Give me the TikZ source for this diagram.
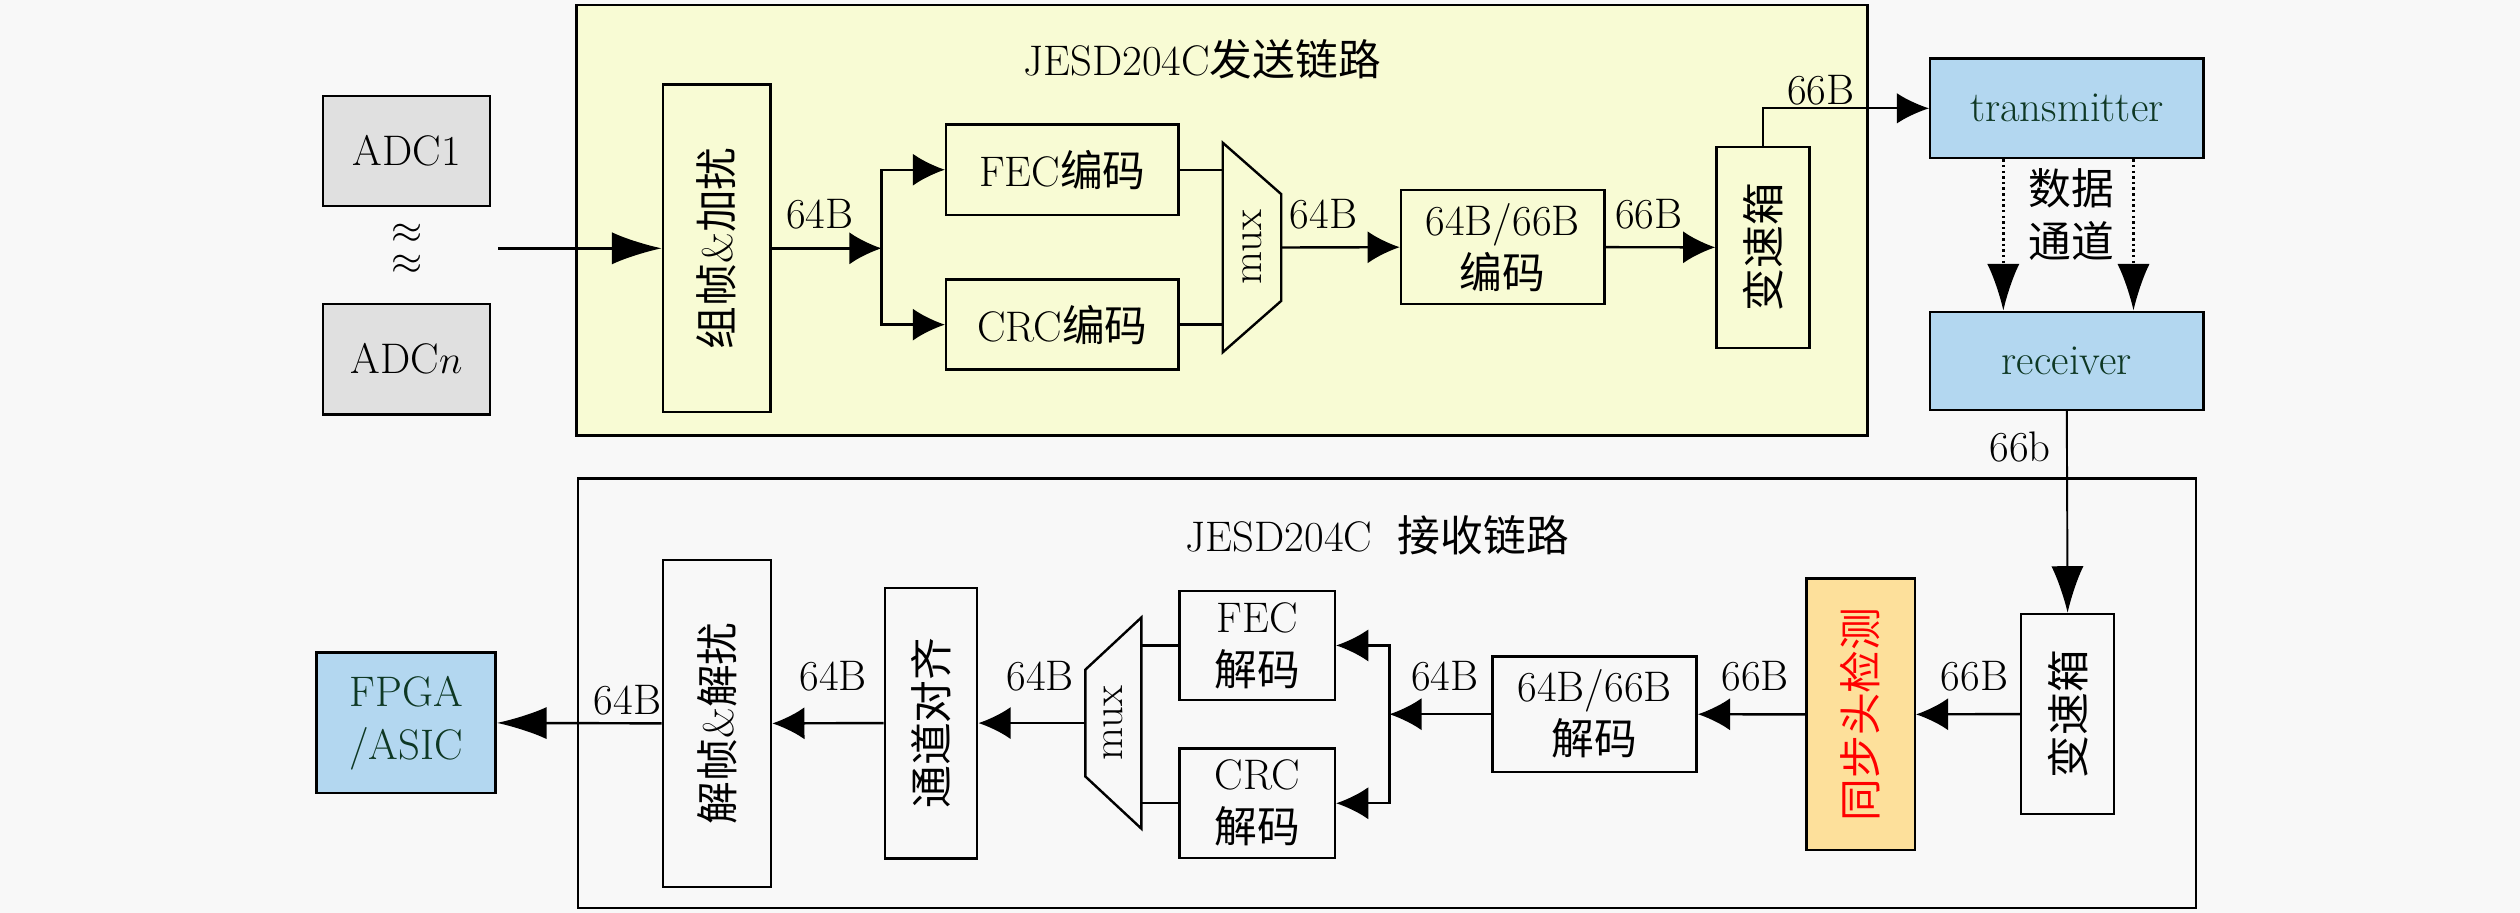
\documentclass[tikz,border=0pt]{standalone}
\usepackage{fontspec}
\usepackage{graphicx}
\newfontfamily\zh{Noto Sans CJK SC}
\usetikzlibrary{arrows.meta,calc}
\definecolor{bgc}{RGB}{248,248,248}
\definecolor{txbox}{RGB}{248,251,212}
\definecolor{adcgray}{RGB}{224,224,224}
\definecolor{lblue}{RGB}{179,215,240}
\definecolor{lorange}{RGB}{253,224,155}
\definecolor{dgreen}{RGB}{14,56,36}
\tikzset{
  box/.style={draw, line width=1.5pt, inner sep=0pt, align=center},
  bluebox/.style={box, fill=lblue, text=dgreen},
  conn/.style={line width=1.5pt},
  arr/.style={conn, -{Latex[length=20pt,width=20pt]}},
  bigarr/.style={conn, -{Latex[length=31pt,width=20pt]}},
  longarr/.style={line width=1.2pt, -{Latex[length=29pt,width=20pt]}},
  thinarr/.style={line width=1.2pt, -{Latex[length=20pt,width=19pt]}},
  dotarr/.style={line width=1.5pt, dash pattern=on 1.5pt off 2pt, -{Latex[length=29pt,width=20pt]}},
  lbl/.style={inner sep=0pt},
  muxshape/.style={inner sep=0pt}
}
\begin{document}
\begin{tikzpicture}[x=1pt,y=-1pt,font={\fontsize{26.6}{33}\selectfont}]
\useasboundingbox (0,0) rectangle (1568,568);
\fill[bgc] (0,0) rectangle (1568,568);

% outer chain boxes
\draw[line width=1.5pt, fill=txbox] (358.6,3) rectangle (1162,271);
\draw[line width=1.5pt, fill=bgc] (359.7,297.6) rectangle (1366.5,565);
\node[lbl] (ttitle) at (748,37) {JESD204C{\zh 发送链路}};
\node[lbl] (rtitle) at (857,333) {JESD204C\hspace{0.6em}{\zh 接收链路}};

% ADC
\node[box, fill=adcgray, minimum width=104pt, minimum height=68.5pt] (adc1) at (253,94) {ADC1};
\node[box, fill=adcgray, minimum width=104pt, minimum height=69pt] (adcn) at (253,223.5) {ADC$n$};
\node[lbl, align=center, font={\fontsize{26.6}{19}\selectfont}] (ap) at (253,155) {$\approx$\\$\approx$};
\coordinate (in) at (310,154.5);

% transmit chain
\node[box, minimum width=67pt, minimum height=204pt] (frame) at (446,154.5) {\rotatebox{90}{{\zh 组帧}\&{\zh 加扰}}};
\coordinate (br1) at (548.5,154.5);
\node[box, minimum width=144.6pt, minimum height=56.4pt] (fec) at (661,105.6) {FEC{\zh 编码}};
\node[box, minimum width=144.6pt, minimum height=56pt] (crc) at (661,202) {CRC{\zh 编码}};
\node[muxshape, minimum width=36pt, minimum height=130pt] (mux1) at (779,154) {\rotatebox{90}{mux}};
\draw[line width=1.5pt] (mux1.north west) -- ($(mux1.north east)+(0,32)$) -- ($(mux1.south east)+(0,-32)$) -- (mux1.south west) -- cycle;
\node[box, minimum width=126.6pt, minimum height=71pt] (enc) at (935,153.8) {64B/66B\\{\zh 编码}};
\node[box, minimum width=58pt, minimum height=125pt] (gear1) at (1097,153.9) {\rotatebox{90}{\zh 变速箱}};

\draw[bigarr] (in) -- (frame.west);
\draw[arr] (frame.east) -- (br1);
\draw[arr] (br1) |- (fec.west);
\draw[arr] (br1) |- (crc.west);
\draw[conn] (fec.east) -- (mux1.west |- fec.east);
\draw[conn] (crc.east) -- (mux1.west |- crc.east);
\draw[arr] (mux1.east) -- (enc.west);
\draw[arr] (enc.east) -- (gear1.west);

\node[lbl] (l1) at (510,133) {64B};
\node[lbl] (l2) at (823.5,133) {64B};
\node[lbl] (l3) at (1026,133) {66B};

% link
\node[bluebox, minimum width=170pt, minimum height=62pt] (tx) at (1286,67.4) {transmitter};
\node[bluebox, minimum width=170pt, minimum height=61pt] (rx) at (1286,224.5) {receiver};
\draw[thinarr] (gear1.north) |- (tx.west);
\node[lbl] (l4) at (1133,56) {66B};
\draw[dotarr] ([xshift=-39.5pt]tx.south) -- ([xshift=-39.5pt]rx.north);
\draw[dotarr] ([xshift=41.5pt]tx.south) -- ([xshift=41.5pt]rx.north);
\node[lbl, align=center] (chan) at (1289,133.7) {\zh 数据\\\zh 通道};

% receive chain
\node[box, minimum width=58pt, minimum height=124.5pt] (gear2) at (1286.5,444.3) {\rotatebox{90}{\zh 变速箱}};
\draw[longarr] (rx.south) -- (gear2.north);
\node[lbl] (l5) at (1257,278) {66b};
\node[box, fill=lorange, text=red, minimum width=67.4pt, minimum height=169pt] (sync) at (1157.7,444.5) {\rotatebox{90}{\zh 同步头检测}};
\node[box, minimum width=127pt, minimum height=71.6pt] (dec) at (992.2,444.4) {64B/66B\\{\zh 解码}};
\coordinate (br2) at (864.5,444.4);
\node[box, minimum width=96.8pt, minimum height=67.6pt] (fecd) at (782.2,401.6) {FEC\\{\zh 解码}};
\node[box, minimum width=96.8pt, minimum height=68.3pt] (crcd) at (782.2,499.8) {CRC\\{\zh 解码}};
\node[muxshape, minimum width=34.5pt, minimum height=131pt] (mux2) at (692.75,449.9) {\rotatebox{90}{mux}};
\draw[line width=1.5pt] (mux2.north east) -- (mux2.south east) -- ($(mux2.south west)+(0,-32.5)$) -- ($(mux2.north west)+(0,32.5)$) -- cycle;
\node[box, minimum width=57.5pt, minimum height=168.3pt] (align) at (579.3,449.9) {\rotatebox{90}{\zh 通道对齐}};
\node[box, minimum width=67.4pt, minimum height=203.3pt] (deframe) at (446.1,450.1) {\rotatebox{90}{{\zh 解帧}\&{\zh 解扰}}};
\node[bluebox, minimum width=111.4pt, minimum height=87.5pt] (fpga) at (252.7,449.8) {FPGA\\/ASIC};

\draw[arr] (gear2.west) -- (sync.east);
\draw[arr] (sync.west) -- (dec.east);
\draw[arr] (dec.west) -- (br2);
\draw[arr] (br2) |- (fecd.east);
\draw[arr] (br2) |- (crcd.east);
\draw[conn] (fecd.west) -- (mux2.east |- fecd.west);
\draw[conn] (crcd.west) -- (mux2.east |- crcd.west);
\draw[arr] (mux2.west) -- (align.east);
\draw[arr] (align.west) -- (deframe.east);
\draw[bigarr] (deframe.west) -- (fpga.east);

\node[lbl] (l6) at (1228.5,421) {66B};
\node[lbl] (l7) at (1092,421) {66B};
\node[lbl] (l8) at (898.9,421) {64B};
\node[lbl] (l9) at (647.3,421) {64B};
\node[lbl] (l10) at (518.4,421) {64B};
\node[lbl] (l11) at (390.5,435.6) {64B};
\end{tikzpicture}
\end{document}
